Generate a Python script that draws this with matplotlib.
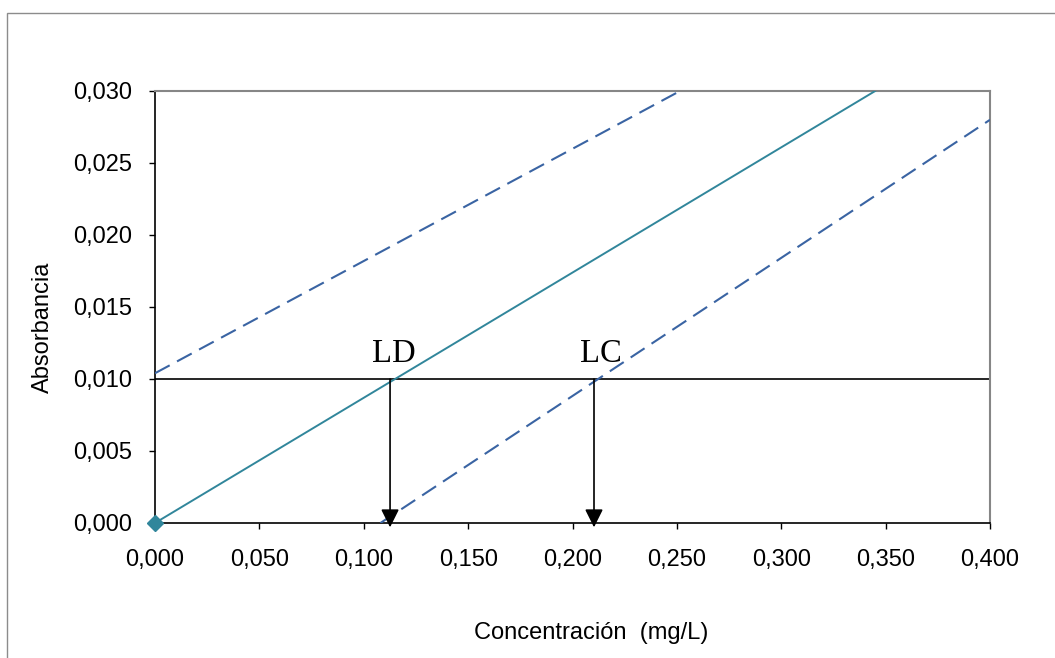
import matplotlib
matplotlib.use("Agg")
import matplotlib.pyplot as plt
from matplotlib.ticker import FuncFormatter, MultipleLocator
from matplotlib.patches import Rectangle

# Data
calib_x = [0.000, 0.345]
calib_y = [0.000, 0.030]
upper_x = [0.000, 0.2515]
upper_y = [0.0104, 0.030]
lower_x = [0.108, 0.400]
lower_y = [0.000, 0.028]
limit_y = 0.010
ld_x = 0.1126
lc_x = 0.2103
point_x = [0.000]
point_y = [0.000]
labels = ["LD", "LC"]

plt.rcParams['font.family'] = ['Liberation Sans', 'DejaVu Sans']

fig = plt.figure(figsize=(10.55, 6.58), dpi=100)
ax = fig.add_axes([155/1055, 1-523/658, 835/1055, 432/658])

# outer border
fig.patches.append(Rectangle((7/1055, -0.5), 1.5, 1-13/658+0.5, transform=fig.transFigure,
                             fill=False, edgecolor='#8c8c8c', linewidth=1.0))

teal = '#31869b'
dblue = '#3a64a3'

ax.plot(calib_x, calib_y, color=teal, lw=1.4, zorder=3)
ax.plot(upper_x, upper_y, color=dblue, lw=1.5, linestyle=(0, (8, 4)), zorder=3)
ax.plot(lower_x, lower_y, color=dblue, lw=1.5, linestyle=(0, (8, 4)), zorder=3)
ax.axhline(limit_y, color='black', lw=1.2, zorder=2)
ax.plot(point_x, point_y, marker='D', color=teal, markersize=8, clip_on=False, zorder=5, linestyle='none')

for xv in [ld_x, lc_x]:
    ax.annotate('', xy=(xv, -0.0003), xytext=(xv, limit_y),
                arrowprops=dict(arrowstyle='-|>,head_length=1.1,head_width=0.55', color='black',
                                lw=1.2, shrinkA=0, shrinkB=0),
                annotation_clip=False, zorder=4)

ax.text(0.1145, 0.01118, labels[0], family=['Liberation Serif', 'DejaVu Serif'], fontsize=23.5,
        ha='center', va='baseline')
ax.text(0.2135, 0.01118, labels[1], family=['Liberation Serif', 'DejaVu Serif'], fontsize=23.5,
        ha='center', va='baseline')

ax.set_xlim(0, 0.4)
ax.set_ylim(0, 0.030)
ax.xaxis.set_major_locator(MultipleLocator(0.05))
ax.yaxis.set_major_locator(MultipleLocator(0.005))
fmt = FuncFormatter(lambda v, p: f"{v:.3f}".replace('.', ','))
ax.xaxis.set_major_formatter(fmt)
ax.yaxis.set_major_formatter(fmt)
ax.tick_params(axis='both', direction='out', length=4.3, width=1, labelsize=17, colors='black')
ax.tick_params(axis='y', pad=12)
ax.tick_params(axis='x', pad=14.5)

for s in ['top', 'right']:
    ax.spines[s].set_color('#868686')
    ax.spines[s].set_linewidth(1.5)
for s in ['left', 'bottom']:
    ax.spines[s].set_color('black')
    ax.spines[s].set_linewidth(1.2)

fig.text(43/1055, 1-327/658, 'Absorbancia', rotation=90, ha='center', va='center', fontsize=17)
fig.text(591/1055, 1-633/658, 'Concentración  (mg/L)', ha='center', va='center', fontsize=17)

fig.savefig('out.png', dpi=100)
